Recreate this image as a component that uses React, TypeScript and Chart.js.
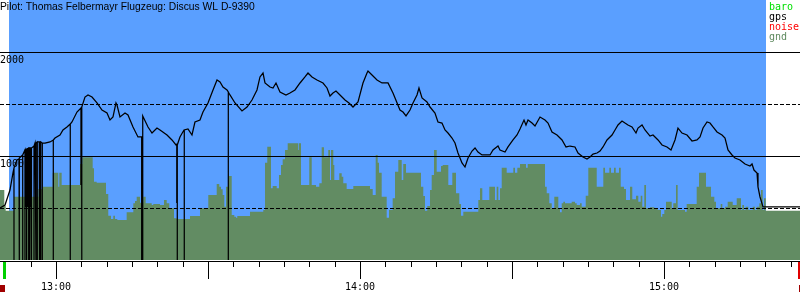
import React, { useEffect, useRef } from 'react';
import { Chart, registerables } from 'chart.js';

Chart.register(...registerables);

// ---- text ----
const titleText = 'Pilot: Thomas Felbermayr Flugzeug: Discus WL D-9390';
const legendLabels = ['baro', 'gps', 'noise', 'gnd'];
const legendColors = ['#00e000', '#000000', '#ff0000', '#5f8a5f'];

// ---- axes (time in minutes after 12:00, altitude in m) ----
const timeMin = 48.95;
const timeMax = 206.84;
const altMin = 0;
const altMax = 2500;
const tickStep = 5;
const longTickStep = 30;
const labelStep = 60;
const gridValues = [500, 1000, 1500, 2000];
const gridDashed = [true, false, true, false];
const yLabelValues = [1000, 2000];

// ---- flight window and log markers ----
const flightStart = 50.72;
const flightEnd = 200.13;
const logStart = 49.8;
const logEnd = 206.74;
const noiseMarks = [49.44, 207.1];

// ---- GPS altitude (with dropouts) ----
const gps: [number, number][] = [
  [48.95, 500], [49.94, 529], [50.92, 673], [51.51, 837],
  [51.71, 885], [51.71, 0], [51.71, 885],
  [52.3, 962],
  [52.7, 971], [52.7, 0], [52.7, 971],
  [52.89, 981],
  [53.43, 1010], [53.43, 0], [53.43, 1010],
  [53.88, 1058], [53.88, 0], [53.88, 1058],
  [53.98, 1058], [53.98, 510], [53.98, 1058],
  [54.08, 1062], [54.08, 510], [54.08, 1062],
  [54.21, 1067], [54.21, 0], [54.21, 1067],
  [54.33, 1067], [54.33, 510], [54.33, 1067],
  [54.47, 1072], [54.47, 510], [54.47, 1072],
  [54.61, 1077], [54.61, 0], [54.61, 1077],
  [54.73, 1077], [54.73, 510], [54.73, 1077],
  [54.87, 1077], [54.87, 0], [54.87, 1077],
  [54.97, 1077], [54.97, 510], [54.97, 1077],
  [55.07, 1077], [55.07, 510], [55.07, 1077],
  [55.2, 1077], [55.2, 0], [55.2, 1077],
  [55.26, 1077],
  [55.66, 1096], [55.66, 0], [55.66, 1096],
  [55.86, 1125],
  [56.05, 1125], [56.05, 0], [56.05, 1125],
  [56.31, 1135], [56.31, 0], [56.31, 1135],
  [56.7, 1135], [56.7, 0], [56.7, 1135],
  [56.84, 1135],
  [56.98, 1135], [56.98, 0], [56.98, 1135],
  [57.3, 1125], [57.3, 0], [57.3, 1125],
  [57.83, 1125], [58.82, 1135],
  [59.47, 1154], [59.47, 0], [59.47, 1154],
  [59.8, 1173], [60.79, 1202], [61.38, 1250], [62.17, 1279],
  [62.82, 1308], [62.82, 0], [62.82, 1308],
  [63.16, 1327], [64.14, 1423],
  [64.93, 1462], [64.93, 721], [64.93, 1462],
  [65.07, 1471], [65.07, 0], [65.07, 1471],
  [65.13, 1471], [65.72, 1567], [66.32, 1587], [67.11, 1567], [68.09, 1510],
  [69.08, 1442], [70.07, 1413], [70.66, 1346], [71.25, 1375], [71.84, 1510],
  [72.04, 1490], [72.63, 1375], [73.62, 1413], [74.21, 1394], [75.2, 1279],
  [76.18, 1183], [76.91, 1183], [76.91, 0], [77.07, 0], [77.07, 1385],
  [77.17, 1385], [78.16, 1279], [78.95, 1221], [79.93, 1269], [80.53, 1250],
  [81.91, 1202], [82.89, 1154], [83.68, 1106],
  [83.84, 1110], [83.84, 548], [83.84, 1110],
  [83.94, 1106], [83.94, 0], [83.94, 1106],
  [84.47, 1183], [85.26, 1250],
  [85.32, 1250], [85.32, 0], [85.32, 1250],
  [86.05, 1260], [86.84, 1202], [87.43, 1327], [88.42, 1346], [89.01, 1423],
  [90.0, 1510], [90.99, 1635], [91.78, 1731], [92.37, 1712], [92.96, 1663],
  [93.75, 1635],
  [94.01, 1615], [94.01, 0], [94.01, 1615],
  [94.34, 1587], [95.33, 1510], [96.71, 1433], [97.7, 1471], [98.68, 1538],
  [99.67, 1635], [100.26, 1760], [100.86, 1798], [101.25, 1702], [102.24, 1663],
  [102.83, 1654], [103.42, 1702], [104.21, 1615], [105.39, 1587], [106.18, 1606],
  [107.17, 1635], [108.16, 1702], [109.14, 1760], [109.74, 1798], [110.53, 1760],
  [111.51, 1731], [112.7, 1702], [113.49, 1654], [114.08, 1577], [114.67, 1606],
  [115.26, 1625], [116.05, 1587], [117.04, 1538], [117.83, 1510], [118.62, 1471],
  [119.61, 1519], [120.59, 1702], [121.38, 1798], [121.58, 1817], [122.37, 1779],
  [123.36, 1731], [124.34, 1702], [125.53, 1702], [126.51, 1606], [127.89, 1442],
  [128.49, 1423], [129.08, 1385], [129.87, 1442], [130.46, 1510], [131.25, 1587],
  [131.64, 1654], [132.24, 1558], [133.22, 1519], [133.82, 1471], [134.8, 1413],
  [135.39, 1327], [136.18, 1317], [136.78, 1250], [137.37, 1221], [138.16, 1173],
  [138.75, 1125], [139.34, 1029], [140.13, 933], [140.72, 894], [141.32, 981],
  [142.11, 1048], [142.7, 1077], [143.29, 1038], [144.08, 1010], [145.66, 1010],
  [146.25, 1058], [147.24, 1096], [147.63, 1058], [148.62, 1038], [149.21, 1087],
  [150.2, 1154], [150.99, 1202], [151.58, 1260], [152.37, 1346], [152.76, 1298],
  [153.16, 1346], [153.95, 1317], [154.54, 1288], [155.53, 1375], [156.51, 1346],
  [157.11, 1317], [157.89, 1231], [158.88, 1202], [159.87, 1154], [160.66, 1087],
  [161.45, 1096], [162.43, 1087], [163.03, 1029], [164.01, 990], [164.8, 971],
  [165.39, 990], [165.99, 1019], [166.78, 1029], [167.37, 1048], [167.96, 1087],
  [168.75, 1154], [169.74, 1202], [170.33, 1250], [170.92, 1298], [171.71, 1337],
  [172.3, 1317], [172.89, 1298], [173.68, 1279], [174.47, 1221], [174.87, 1269],
  [175.66, 1298], [176.25, 1250], [177.24, 1192], [177.83, 1202], [178.82, 1154],
  [179.61, 1106], [180.59, 1087], [181.38, 1058], [182.17, 1154], [182.76, 1269],
  [183.55, 1221], [184.54, 1202], [185.53, 1144], [186.51, 1154], [187.11, 1183],
  [187.7, 1269], [188.49, 1327], [189.08, 1317], [189.67, 1279], [190.46, 1231],
  [191.45, 1202], [192.04, 1173], [192.63, 1058], [193.42, 1010], [194.01, 981],
  [195.0, 962], [195.99, 923], [196.97, 904], [197.37, 923], [197.76, 865],
  [198.36, 837], [198.55, 702], [198.95, 606], [199.54, 510], [200.33, 510],
  [206.84, 510],
];

// ---- ground elevation (step values, each holds until the next time) ----
const gnd: [number, number][] = [
  [48.95, 593], [49.8, 673], [50.07, 522], [51.71, 474], [56.51, 609], [57.38, 683],
  [59.35, 705], [60.45, 839], [60.65, 705], [61.12, 839], [64.74, 721], [65.19, 923],
  [67.24, 987], [67.5, 882], [68.03, 753], [69.87, 743], [70.32, 635], [70.86, 426],
  [71.31, 394], [71.64, 426], [72.1, 394], [73.95, 385], [75.26, 459], [75.59, 545],
  [75.93, 567], [76.58, 609], [77.23, 551], [77.7, 609], [78.89, 545], [79.2, 529],
  [80.53, 538], [81.32, 529], [81.85, 577], [82.36, 545], [83.29, 497], [83.82, 401],
  [86.45, 394], [88.42, 423], [90.06, 497], [91.72, 625], [92.23, 731], [92.57, 705],
  [92.9, 680], [93.22, 625], [93.55, 512], [94.01, 705], [94.68, 808], [95.19, 433],
  [95.53, 416], [95.78, 407], [98.29, 423], [100.91, 464], [101.25, 481], [101.7, 936],
  [102.43, 1089], [102.77, 689], [103.56, 712], [104.01, 689], [104.41, 817], [104.74, 913],
  [105.2, 968], [105.73, 1058], [107.82, 1122], [107.96, 1058], [108.36, 1122], [109.99, 721],
  [110.47, 987], [111.32, 721], [111.97, 705], [112.44, 737], [112.89, 1084], [113.74, 987],
  [114.08, 1058], [114.28, 769], [114.73, 1058], [114.93, 913], [115.91, 769], [116.39, 834],
  [116.7, 801], [117.37, 737], [118.68, 683], [121.97, 712], [122.51, 683], [123.1, 625],
  [123.49, 1010], [123.75, 936], [124.28, 839], [125.27, 609], [125.72, 407], [126.45, 481],
  [126.91, 593], [127.56, 849], [128.23, 962], [128.54, 769], [129.08, 923], [132.04, 839],
  [132.49, 705], [132.83, 615], [133.28, 474], [133.82, 519], [134.15, 673], [134.61, 817],
  [135.14, 1058], [135.99, 849], [136.32, 904], [137.43, 913], [138.22, 721], [138.95, 839],
  [139.6, 641], [139.93, 538], [140.39, 426], [143.35, 464], [143.68, 577], [144.14, 689],
  [145.52, 577], [146.64, 705], [146.98, 577], [147.3, 705], [147.63, 577], [147.97, 689],
  [148.95, 887], [150.26, 839], [150.59, 887], [151.05, 839], [151.58, 887], [152.76, 923],
  [153.1, 887], [156.51, 923], [156.85, 705], [157.36, 641], [157.84, 545], [158.35, 490],
  [159.14, 609], [159.47, 497], [159.81, 459], [160.13, 545], [160.46, 561], [161.78, 545],
  [162.43, 561], [162.77, 545], [163.42, 529], [163.75, 545], [164.55, 512], [165.06, 618],
  [166.72, 887], [168.02, 705], [168.36, 887], [169.21, 839], [169.54, 887], [170.13, 839],
  [170.47, 887], [171.12, 839], [171.46, 887], [172.11, 705], [172.5, 683], [173.29, 577],
  [173.74, 705], [174.47, 584], [174.93, 618], [175.4, 561], [175.72, 618], [176.11, 512],
  [176.45, 721], [177.24, 497], [178.09, 507], [178.76, 497], [179.41, 481], [179.66, 416],
  [180.06, 442], [180.39, 481], [181.52, 561], [181.83, 497], [182.37, 545], [182.7, 721],
  [184.14, 481], [184.48, 464], [186.45, 538], [186.91, 705], [188.29, 839], [189.28, 705],
  [189.93, 609], [190.26, 561], [191.19, 497], [191.51, 538], [192.04, 497], [192.57, 512],
  [193.56, 561], [194.35, 529], [195.2, 593], [195.45, 481], [195.79, 529], [196.12, 481],
  [196.64, 512], [197.51, 481], [197.96, 512], [198.3, 481], [198.81, 512], [199.14, 545],
  [199.48, 673], [199.74, 481], [200.07, 593], [205.4, 474], [206.84, 474],
];

// ---- style ----
const SKY = '#5a9fff';
const GROUND = '#628c63';
const MONO = '10px "DejaVu Sans Mono", monospace';
const SANS = '10.3px "Liberation Sans", Arial, sans-serif';

function fmtTime(t: number): string {
  const h = 12 + Math.floor(t / 60);
  const m = Math.round(t % 60);
  return `${h}:${m < 10 ? '0' + m : m}`;
}

const decor = {
  id: 'flightDecor',
  beforeDatasetsDraw(chart: any) {
    const { ctx, chartArea, scales } = chart;
    const x = scales.x;
    const a = Math.round(x.getPixelForValue(flightStart));
    const b = Math.round(x.getPixelForValue(flightEnd));
    ctx.save();
    ctx.fillStyle = SKY;
    ctx.fillRect(a, chartArea.top, b - a, chartArea.bottom - chartArea.top);
    ctx.restore();
  },
  afterDatasetDraw(chart: any, args: any) {
    if (args.index !== 1) return;
    const { ctx, scales } = chart;
    const y = scales.y;
    const W = chart.width;
    ctx.save();
    ctx.fillStyle = '#000';
    gridValues.forEach((v, i) => {
      const py = Math.round(y.getPixelForValue(v));
      if (gridDashed[i]) {
        for (let px = 0; px < W; px += 6) ctx.fillRect(px, py, 4, 1);
      } else {
        ctx.fillRect(0, py, W, 1);
      }
    });
    ctx.font = MONO;
    ctx.textAlign = 'left';
    ctx.textBaseline = 'alphabetic';
    yLabelValues.forEach((v) => {
      const py = Math.round(y.getPixelForValue(v));
      ctx.fillText(String(v), 0, py + 11);
    });
    ctx.restore();
  },
  afterDraw(chart: any) {
    const { ctx, chartArea, scales } = chart;
    const x = scales.x;
    const W = chart.width;
    const base = chartArea.bottom;
    ctx.save();
    // axis line
    ctx.fillStyle = '#000';
    ctx.fillRect(0, base + 1, W, 1);
    // ticks
    ctx.font = MONO;
    ctx.textAlign = 'center';
    ctx.textBaseline = 'alphabetic';
    for (let t = Math.ceil(timeMin / tickStep) * tickStep; t <= timeMax; t += tickStep) {
      const px = Math.round(x.getPixelForValue(t));
      const long = t % longTickStep === 0;
      ctx.fillRect(px, base + 2, 1, long ? 17 : 5);
      if (t % labelStep === 0) ctx.fillText(fmtTime(t), px, base + 30);
    }
    // log start / end markers
    ctx.fillStyle = '#00d000';
    ctx.fillRect(Math.round(x.getPixelForValue(logStart)) - 1, base + 2, 3, 17);
    ctx.fillStyle = '#e00000';
    ctx.fillRect(Math.round(x.getPixelForValue(logEnd)) - 1, base + 2, 3, 17);
    ctx.fillStyle = '#a00000';
    noiseMarks.forEach((t) => {
      const px = x.getPixelForValue(t);
      ctx.fillRect(Math.round(px - 2.5), base + 25, 5, 7);
    });
    // title
    ctx.fillStyle = '#000';
    ctx.font = SANS;
    ctx.textAlign = 'left';
    ctx.fillText(titleText, 0, 10);
    // legend
    ctx.font = MONO;
    legendLabels.forEach((l, i) => {
      ctx.fillStyle = legendColors[i];
      ctx.fillText(l, 769, 10 + i * 10);
    });
    ctx.restore();
  },
};

export default function App() {
  const ref = useRef<HTMLCanvasElement | null>(null);
  useEffect(() => {
    if (!ref.current) return;
    const chart = new Chart(ref.current, {
      type: 'line',
      data: {
        datasets: [
          {
            label: 'gps',
            data: gps.map(([t, a]) => ({ x: t, y: a })),
            borderColor: '#000',
            borderWidth: 1.25,
            pointRadius: 0,
            tension: 0,
            fill: false,
          },
          {
            label: 'gnd',
            data: gnd.map(([t, a]) => ({ x: t, y: a })),
            borderColor: 'rgba(0,0,0,0)',
            borderWidth: 0,
            backgroundColor: GROUND,
            pointRadius: 0,
            stepped: 'after',
            fill: 'origin',
          },
        ],
      },
      options: {
        animation: false,
        responsive: false,
        events: [],
        layout: { padding: { left: 0, right: 0, top: 0, bottom: 40 } },
        plugins: {
          legend: { display: false },
          tooltip: { enabled: false },
          title: { display: false },
        },
        scales: {
          x: { type: 'linear', display: false, min: timeMin, max: timeMax },
          y: { type: 'linear', display: false, min: altMin, max: altMax },
        },
      },
      plugins: [decor],
    } as any);
    return () => chart.destroy();
  }, []);
  return (
    <div style={{ position: 'absolute', left: 0, top: 0, width: 800, height: 300, background: '#fff' }}>
      <canvas ref={ref} width={800} height={300} style={{ display: 'block' }} />
    </div>
  );
}
